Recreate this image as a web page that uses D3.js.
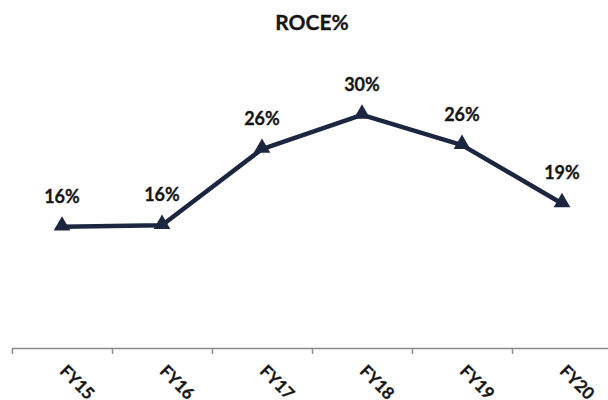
<!DOCTYPE html>
<html>
<head>
<meta charset="utf-8">
<script src="https://d3js.org/d3.v7.min.js"></script>
<style>
  body { margin: 0; background: #fff; }
  text { font-family: Lato, "Noto Sans", sans-serif; font-weight: bold; fill: #161616; }
</style>
</head>
<body>
<div id="chart"></div>
<script>
  var years = ["FY15", "FY16", "FY17", "FY18", "FY19", "FY20"];
  var roce = [15.6, 15.8, 25.6, 30.0, 26.1, 18.6];
  var labels = ["16%", "16%", "26%", "30%", "26%", "19%"];

  var width = 608, height = 400;
  var lineColor = "#1c2641";

  var svg = d3.select("#chart").append("svg")
      .attr("width", width).attr("height", height);

  var x = d3.scaleBand().domain(years).range([12, 612]);
  var y = d3.scaleLinear().domain([0, 35]).range([348, 76]);

  svg.append("text")
      .attr("x", 312).attr("y", 30)
      .attr("text-anchor", "middle")
      .style("font-size", "21px")
      .style("stroke", "#161616").style("stroke-width", 0.3)
      .text("ROCE%");

  // axis line + tick marks between categories
  var axis = svg.append("g");
  axis.append("line")
      .attr("x1", 12).attr("x2", width)
      .attr("y1", 348.5).attr("y2", 348.5)
      .attr("stroke", "#8c8c8c").attr("stroke-width", 1.5);
  axis.selectAll(".tick")
      .data(years)
      .enter().append("line")
      .attr("x1", function(d) { return x(d) + 0.5; })
      .attr("x2", function(d) { return x(d) + 0.5; })
      .attr("y1", 348).attr("y2", 354)
      .attr("stroke", "#8c8c8c").attr("stroke-width", 1.5);

  axis.selectAll(".lbl")
      .data(years)
      .enter().append("text")
      .attr("transform", function(d) {
        return "translate(" + (x(d) + x.bandwidth() / 2 + 1) + ",368) rotate(45)";
      })
      .attr("dy", "0.35em")
      .style("font-size", "17px")
      .style("stroke", "#161616").style("stroke-width", 0.3)
      .text(function(d) { return d; });

  var pts = years.map(function(d, i) { return { k: d, v: roce[i], l: labels[i] }; });

  var line = d3.line()
      .x(function(d) { return x(d.k) + x.bandwidth() / 2; })
      .y(function(d) { return y(d.v); });

  svg.append("path")
      .attr("d", line(pts))
      .attr("fill", "none")
      .attr("stroke", lineColor)
      .attr("stroke-width", 4.5)
      .attr("stroke-linejoin", "round");

  svg.selectAll(".mark")
      .data(pts)
      .enter().append("path")
      .attr("d", d3.symbol().type(d3.symbolTriangle).size(120))
      .attr("transform", function(d) {
        return "translate(" + (x(d.k) + x.bandwidth() / 2) + "," + (y(d.v) - 1) + ")";
      })
      .attr("fill", lineColor);

  svg.selectAll(".val")
      .data(pts)
      .enter().append("text")
      .attr("x", function(d) { return x(d.k) + x.bandwidth() / 2; })
      .attr("y", function(d) { return y(d.v) - 24; })
      .attr("text-anchor", "middle")
      .style("font-size", "18px")
      .style("stroke", "#161616").style("stroke-width", 0.3)
      .text(function(d) { return d.l; });
</script>
</body>
</html>
